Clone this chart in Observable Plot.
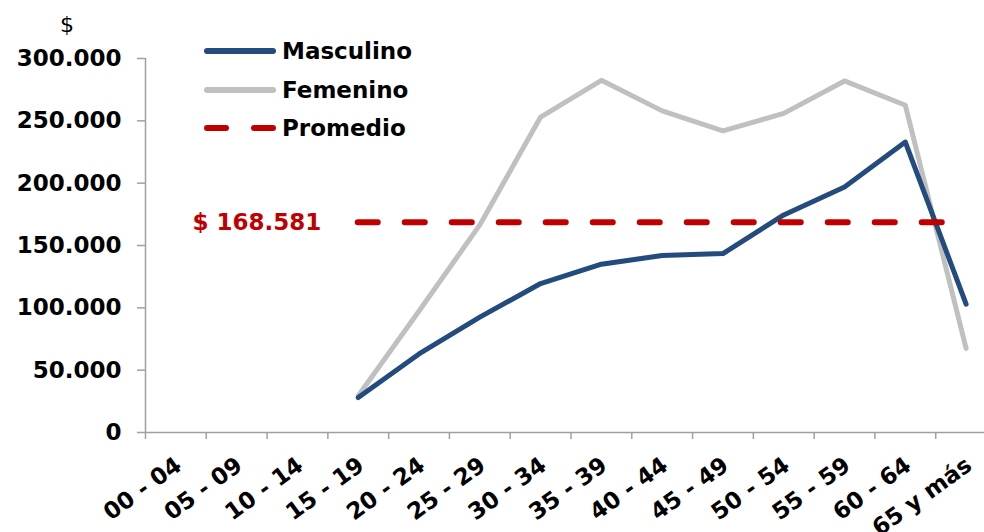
<!DOCTYPE html>
<html>
<head>
<meta charset="utf-8">
<script src="https://cdn.jsdelivr.net/npm/d3@7"></script>
<script src="https://cdn.jsdelivr.net/npm/@observablehq/plot@0.6"></script>
<style>
  html, body { margin: 0; padding: 0; background: #fff; }
  #wrap { position: relative; width: 984px; height: 532px; overflow: hidden; font-family: "DejaVu Sans", Verdana, sans-serif; }
  .legend { position: absolute; left: 204px; top: 32px; }
  .legend .row { display: flex; align-items: center; height: 38.5px; }
  .legend .row span { font-size: 23px; font-weight: bold; color: #000; margin-left: 6px; }
  .unit { position: absolute; left: 60px; top: 12px; font-size: 22px; color: #000; }
</style>
</head>
<body>
<div id="wrap"></div>
<script>
// ---- data ----
const categories = ["00 - 04", "05 - 09", "10 - 14", "15 - 19", "20 - 24", "25 - 29", "30 - 34",
  "35 - 39", "40 - 44", "45 - 49", "50 - 54", "55 - 59", "60 - 64", "65 y más"];
const masculino = [null, null, null, 28000, 63000, 92500, 119500, 135000, 142000, 143500, 174500, 197000, 233000, 103000];
const femenino  = [null, null, null, 29500, 97500, 166500, 253000, 282500, 258000, 242000, 256000, 282000, 262500, 67500];
const promedio = 168581;
const promedioFrom = "15 - 19";
const promedioTo = "65 y más";
const yTicks = [0, 50000, 100000, 150000, 200000, 250000, 300000];
const seriesNames = ["Masculino", "Femenino", "Promedio"];
const seriesColors = ["#234B7D", "#C0C0C0", "#C00000"];

// ---- build ----
const fmt = d3.formatLocale({decimal: ",", thousands: ".", grouping: [3], currency: ["$", ""]}).format(",.0f");
const idx = c => categories.indexOf(c);
const rows = [];
categories.forEach((c, i) => {
  if (masculino[i] != null) rows.push({serie: "Masculino", i, value: masculino[i]});
  if (femenino[i] != null) rows.push({serie: "Femenino", i, value: femenino[i]});
});
const boundaries = d3.range(categories.length + 1).map(i => i - 0.5);

const chart = Plot.plot({
  width: 984,
  height: 532,
  marginLeft: 145,
  marginRight: 0,
  marginTop: 58,
  marginBottom: 100,
  style: {fontFamily: "DejaVu Sans, Verdana, sans-serif", background: "#fff", color: "#000"},
  x: {type: "linear", domain: [-0.5, categories.length - 0.5], range: [145, 996]},
  y: {domain: [0, 300000]},
  marks: [
    Plot.ruleY([0], {stroke: "#a0a0a0", strokeWidth: 1.5}),
    Plot.ruleX([-0.5], {y1: 0, y2: 300000, stroke: "#a0a0a0", strokeWidth: 1.5}),
    Plot.axisY({ticks: yTicks, tickSize: 8, tickPadding: 16, tickFormat: fmt, fontSize: 23, fontWeight: "bold",
      letterSpacing: "0.5px", stroke: "#a0a0a0", fill: "#000", label: null, strokeWidth: 1.5}),
    Plot.axisX({ticks: boundaries, tickSize: 7, tickFormat: () => "", stroke: "#a0a0a0", label: null, strokeWidth: 1.5}),
    Plot.axisX({ticks: d3.range(categories.length), tickSize: 0, tickPadding: 30, dx: 3, tickFormat: i => categories[i],
      tickRotate: -36, fontSize: 23, fontWeight: "bold", fill: "#000", label: null}),
    Plot.line(rows.filter(d => d.serie === "Femenino"), {x: "i", y: "value", stroke: seriesColors[1], strokeWidth: 5,
      strokeLinejoin: "round", strokeLinecap: "round"}),
    Plot.line(rows.filter(d => d.serie === "Masculino"), {x: "i", y: "value", stroke: seriesColors[0], strokeWidth: 5,
      strokeLinejoin: "round", strokeLinecap: "round"}),
    Plot.ruleY([promedio], {x1: idx(promedioFrom), x2: idx(promedioTo), stroke: seriesColors[2], strokeWidth: 6,
      strokeDasharray: "20,27", strokeLinecap: "round"}),
    Plot.text([promedio], {x: idx(promedioFrom), y: d => d, text: d => "$ " + fmt(d), textAnchor: "end", dx: -37,
      fill: seriesColors[2], fontSize: 23, fontWeight: "bold", letterSpacing: "0.7px"})
  ]
});

const wrap = document.getElementById("wrap");
wrap.appendChild(chart);

// unit label
const unit = document.createElement("div");
unit.className = "unit";
unit.textContent = "$";
wrap.appendChild(unit);

// legend
const legend = document.createElement("div");
legend.className = "legend";
seriesNames.forEach((name, k) => {
  const row = document.createElement("div");
  row.className = "row";
  const dash = k === 2 ? ' stroke-dasharray="19,28"' : "";
  row.innerHTML = `<svg width="72" height="12"><line x1="3" y1="6" x2="69" y2="6" stroke="${seriesColors[k]}" stroke-width="6" stroke-linecap="round"${dash}/></svg><span>${name}</span>`;
  legend.appendChild(row);
});
wrap.appendChild(legend);
</script>
</body>
</html>
